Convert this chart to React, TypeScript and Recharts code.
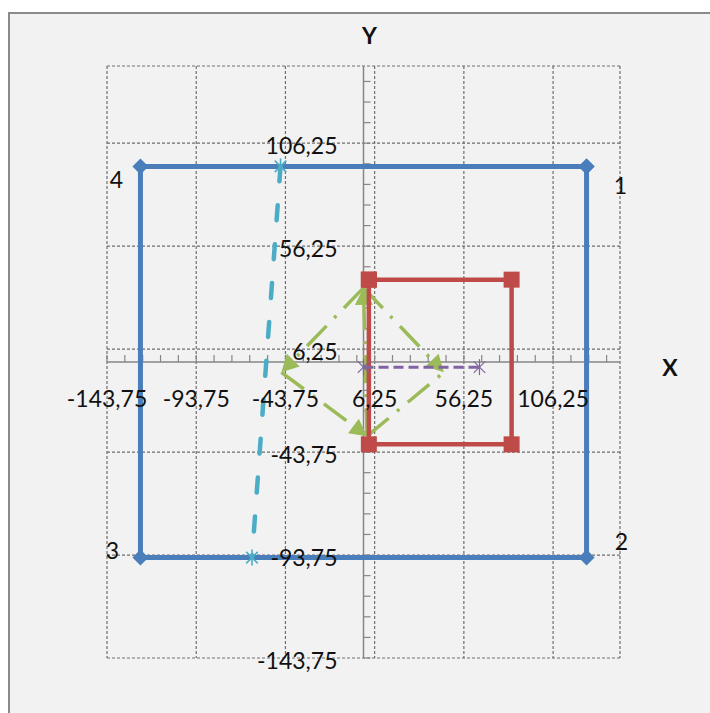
import { ScatterChart, Scatter, XAxis, YAxis, CartesianGrid } from "recharts";

// axis range and labelled ticks (comma decimals, as in the source)
const axisMin = -143.75;
const axisMax = 143.75;
const tickValues = [-143.75, -93.75, -43.75, 6.25, 56.25, 106.25];
const tickLabels = ["-143,75", "-93,75", "-43,75", "6,25", "56,25", "106,25"];

// big blue square, corners numbered 1..4
const blueX = [125, 125, -125, -125, 125];
const blueY = [95, -95, -95, 95, 95];
const cornerLabels = ["1", "2", "3", "4", ""];

// red square
const redX = [3, 83, 83, 3, 3];
const redY = [40, 40, -40, -40, 40];

// cyan dashed segment
const cyanX = [-46.5, -62.5];
const cyanY = [95, -95];

// purple dashed segment
const purpleX = [0, 65];
const purpleY = [-2.5, -2.5];

// green dash-dot arrows
const greenTop = { x: 0, y: 36 };
const greenLeft = { x: -46, y: -5 };
const greenBottom = { x: 2, y: -36 };
const greenRight = { x: 45, y: -5 };
const greenArrows = [
  [greenBottom, greenTop],
  [greenTop, greenLeft],
  [greenLeft, greenBottom],
  [greenTop, greenRight],
];
const greenPlain = [[greenBottom, greenRight]];

const zip = (xs: number[], ys: number[]) => xs.map((x, i) => ({ x, y: ys[i] }));

const minorTicks: number[] = [];
for (let v = axisMin; v < axisMax; v += 10) minorTicks.push(v);

const FONT = "Lato, 'Open Sans', sans-serif";
const FS = 23;
const GRAY = "#868686";
const BLUE = "#4a7ebb";
const RED = "#be4b48";
const GREEN = "#9bbb59";
const PURPLE = "#8064a2";
const CYAN = "#4bacc6";

const cornerOffset: Record<string, [number, number]> = {
  "1": [34, 19],
  "2": [35, -17],
  "3": [-28, -8],
  "4": [-24, 13],
};

const none = () => <g />;

function makeLine(color: string, width: number, dash?: string, arrow = false, cap: any = "butt") {
  return (props: any) => {
    const pts = props.points || [];
    if (pts.length < 2) return <g />;
    const coords = pts.map((p: any) => ({ x: p.x, y: p.y }));
    let head = null;
    if (arrow) {
      const a = coords[coords.length - 2];
      const b = coords[coords.length - 1];
      const ang = Math.atan2(b.y - a.y, b.x - a.x);
      const L = 17;
      const W = 9;
      const bx = b.x - L * Math.cos(ang);
      const by = b.y - L * Math.sin(ang);
      const px = -Math.sin(ang) * W;
      const py = Math.cos(ang) * W;
      head = <polygon points={`${b.x},${b.y} ${bx + px},${by + py} ${bx - px},${by - py}`} fill={color} />;
      coords[coords.length - 1] = { x: bx, y: by };
    }
    const d = coords.map((p: any, i: number) => `${i ? "L" : "M"}${p.x},${p.y}`).join(" ");
    return (
      <g>
        <path d={d} fill="none" stroke={color} strokeWidth={width} strokeDasharray={dash} strokeLinecap={cap} strokeLinejoin="round" />
        {head}
      </g>
    );
  };
}

function Diamond(p: any) {
  const r = 8;
  const { cx, cy } = p;
  const lab = p.payload?.label;
  const off = cornerOffset[lab];
  return (
    <g>
      <polygon points={`${cx},${cy - r} ${cx + r},${cy} ${cx},${cy + r} ${cx - r},${cy}`} fill={BLUE} />
      {off && (
        <text x={cx + off[0]} y={cy + off[1]} textAnchor="middle" dominantBaseline="central" fontFamily={FONT} fontSize={FS} fill="#111">
          {lab}
        </text>
      )}
    </g>
  );
}

function Square(p: any) {
  const r = 8;
  return <rect x={p.cx - r} y={p.cy - r} width={2 * r} height={2 * r} fill={RED} />;
}

function makeStar(color: string, r: number, w: number) {
  return (p: any) => {
    const { cx, cy } = p;
    const d = r * 0.72;
    return (
      <g stroke={color} strokeWidth={w}>
        <line x1={cx} y1={cy - r} x2={cx} y2={cy + r} />
        <line x1={cx - d} y1={cy - d} x2={cx + d} y2={cy + d} />
        <line x1={cx - d} y1={cy + d} x2={cx + d} y2={cy - d} />
      </g>
    );
  };
}

const xTickMark = (p: any) => <line x1={p.cx} y1={p.cy} x2={p.cx} y2={p.cy - 7} stroke={GRAY} strokeWidth={1.2} />;
const yTickMark = (p: any) => <line x1={p.cx} y1={p.cy} x2={p.cx + 7} y2={p.cy} stroke={GRAY} strokeWidth={1.2} />;

const xTickText = (p: any) => (
  <text x={p.cx} y={p.cy + 36} textAnchor="middle" dominantBaseline="central" fontFamily={FONT} fontSize={FS} fill="#111">
    {p.payload.label}
  </text>
);
const yTickText = (p: any) => (
  <text x={p.cx - 26} y={p.cy + 2} textAnchor="end" dominantBaseline="central" fontFamily={FONT} fontSize={FS} fill="#111">
    {p.payload.label}
  </text>
);
const titleText = (p: any) => (
  <text x={p.cx + p.payload.dx} y={p.cy + p.payload.dy} textAnchor="middle" dominantBaseline="central" fontFamily={FONT} fontSize={FS} fontWeight="bold" fill="#111">
    {p.payload.label}
  </text>
);

export default function App() {
  const blue = zip(blueX, blueY).map((d, i) => ({ ...d, label: cornerLabels[i] }));
  const red = zip(redX, redY);
  const cyan = zip(cyanX, cyanY);
  const purple = zip(purpleX, purpleY);
  const xAxisLine = [{ x: axisMin, y: 0 }, { x: axisMax, y: 0 }];
  const yAxisLine = [{ x: 0, y: axisMin }, { x: 0, y: axisMax }];
  const xTicks = minorTicks.map((t) => ({ x: t, y: 0 }));
  const yTicks = minorTicks.map((t) => ({ x: 0, y: t }));
  const xLabels = tickValues.map((t, i) => ({ x: t, y: 0, label: tickLabels[i] }));
  const yLabels = tickValues.map((t, i) => ({ x: 0, y: t, label: tickLabels[i] }));
  const titles = [
    { x: axisMax, y: 0, label: "X", dx: 50, dy: 5 },
    { x: 0, y: axisMax, label: "Y", dx: 6, dy: -31 },
  ];

  return (
    <div
      style={{
        position: "absolute",
        left: 8,
        top: 12,
        width: 702,
        height: 701,
        boxSizing: "border-box",
        background: "#f2f2f2",
        borderTop: "2px solid #8a8a8a",
        borderLeft: "2px solid #8a8a8a",
      }}
    >
      <ScatterChart width={700} height={699} margin={{ top: 52, right: 90, bottom: 55, left: 97 }}>
        <CartesianGrid stroke="#6e6e6e" strokeDasharray="3 2" strokeWidth={1.2} />
        <XAxis hide type="number" dataKey="x" domain={[axisMin, axisMax]} ticks={tickValues} />
        <YAxis hide type="number" dataKey="y" domain={[axisMin, axisMax]} ticks={tickValues} />

        <Scatter data={xAxisLine} line={makeLine(GRAY, 1.5)} shape={none} isAnimationActive={false} />
        <Scatter data={yAxisLine} line={makeLine(GRAY, 1.5)} shape={none} isAnimationActive={false} />
        <Scatter data={xTicks} shape={xTickMark} isAnimationActive={false} />
        <Scatter data={yTicks} shape={yTickMark} isAnimationActive={false} />

        <Scatter data={blue} line={makeLine(BLUE, 5)} shape={Diamond} isAnimationActive={false} />
        <Scatter data={cyan} line={makeLine(CYAN, 4.5, "15 24", false, "round")} shape={makeStar(CYAN, 8, 1.6)} isAnimationActive={false} />
        {greenPlain.map((seg, i) => (
          <Scatter key={"gp" + i} data={seg} line={makeLine(GREEN, 3.5, "28 11 3 11")} shape={none} isAnimationActive={false} />
        ))}
        {greenArrows.map((seg, i) => (
          <Scatter key={"ga" + i} data={seg} line={makeLine(GREEN, 3.5, "28 11 3 11", true)} shape={none} isAnimationActive={false} />
        ))}
        <Scatter data={red} line={makeLine(RED, 4.5)} shape={Square} isAnimationActive={false} />
        <Scatter data={purple} line={makeLine(PURPLE, 3, "10 5")} shape={makeStar(PURPLE, 8, 1.2)} isAnimationActive={false} />

        <Scatter data={xLabels} shape={xTickText} isAnimationActive={false} />
        <Scatter data={yLabels} shape={yTickText} isAnimationActive={false} />
        <Scatter data={titles} shape={titleText} isAnimationActive={false} />
      </ScatterChart>
    </div>
  );
}
